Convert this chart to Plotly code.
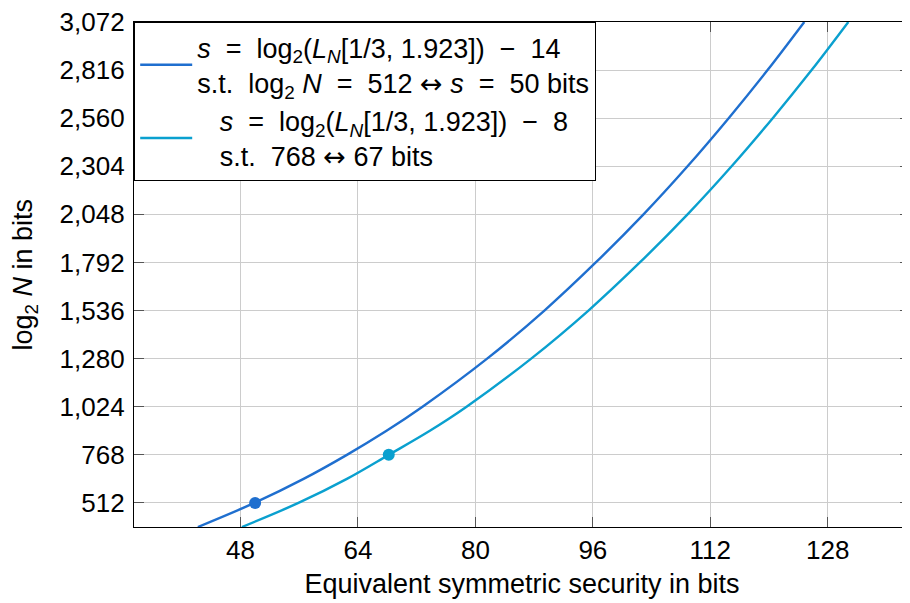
import plotly.graph_objects as go

# ---- data ----
log2N_levels = [384, 512, 640, 768, 896, 1024, 1280, 1536, 1792, 2048, 2304, 2560, 2816, 3072]
sec_minus14 = [42.2, 49.9, 56.6, 62.5, 67.9, 72.8, 81.6, 89.4, 96.4, 102.9, 108.9, 114.5, 119.8, 124.8]
sec_minus8 = [48.2, 55.9, 62.5, 68.2, 73.8, 78.8, 87.6, 95.4, 102.4, 108.9, 114.9, 120.5, 125.8, 130.8]

anchor1_x = [50]
anchor1_y = [512]
anchor2_x = [68.2]
anchor2_y = [768]

x_ticks = [48, 64, 80, 96, 112, 128]
y_ticks = [512, 768, 1024, 1280, 1536, 1792, 2048, 2304, 2560, 2816, 3072]

NB = "\u00a0"
ARROW = "<span style='font-family:DejaVu Sans'>↔</span>"
EQ = NB + "=" + NB
name1 = (f"<i>s</i> {EQ} log<sub>2</sub>(<i>L</i><sub><i>N</i></sub>[1/3, 1.923]) {NB}−{NB} 14"
         f"<br>s.t.{NB} log<sub>2</sub> <i>N</i> {EQ} 512 {ARROW} <i>s</i> {EQ} 50 bits")
name2 = (f"{NB*3}<i>s</i> {EQ} log<sub>2</sub>(<i>L</i><sub><i>N</i></sub>[1/3, 1.923]) {NB}−{NB} 8"
         f"<br>{NB*3}s.t.{NB} 768 {ARROW} 67 bits")

c1 = "#1f6fcf"
c2 = "#0aa0cf"
FONT = "Liberation Sans"

fig = go.Figure()
fig.add_trace(go.Scatter(x=sec_minus14, y=log2N_levels, mode="lines", name=name1,
                         line=dict(color=c1, width=2.4, shape="spline")))
fig.add_trace(go.Scatter(x=sec_minus8, y=log2N_levels, mode="lines", name=name2,
                         line=dict(color=c2, width=2.4, shape="spline")))
fig.add_trace(go.Scatter(x=anchor1_x, y=anchor1_y, mode="markers", showlegend=False,
                         marker=dict(color=c1, size=12)))
fig.add_trace(go.Scatter(x=anchor2_x, y=anchor2_y, mode="markers", showlegend=False,
                         marker=dict(color=c2, size=12)))
# helper (invisible) trace for the right-hand mirrored ticks
fig.add_trace(go.Scatter(x=[None], y=[None], yaxis="y2", showlegend=False, hoverinfo="skip"))

axis_common = dict(
    ticks="inside", ticklen=10, tickwidth=1, tickcolor="#555555",
    showline=True, linecolor="black", linewidth=1.2,
    showgrid=True, gridcolor="#cccccc", gridwidth=1,
    zeroline=False, ticklabeloverflow="allow",
    tickfont=dict(family=FONT, size=26, color="black"),
)

# the page body adds an 8px offset, so the figure is 8px smaller with 8px less margin
fig.update_layout(
    width=902, height=595,
    margin=dict(l=126, r=0, t=14, b=76),
    paper_bgcolor="white", plot_bgcolor="white",
    font=dict(family=FONT, color="black"),
    xaxis=dict(range=[33.5, 139.2], tickvals=x_ticks, mirror="ticks",
               ticklabelstandoff=0,
               title=dict(text="Equivalent symmetric security in bits",
                          font=dict(family=FONT, size=27), standoff=9),
               **axis_common),
    yaxis=dict(range=[384, 3072], tickvals=y_ticks, tickformat=",d",
               ticklabelstandoff=3,
               **axis_common),
    yaxis2=dict(range=[384, 3072], overlaying="y", side="right", tickvals=y_ticks,
                ticks="inside", ticklen=10, tickcolor="#555555", showticklabels=False,
                showgrid=False, showline=False, zeroline=False),
    legend=dict(x=0, y=1, xanchor="left", yanchor="top",
                bgcolor="white", bordercolor="black", borderwidth=1.2,
                font=dict(family=FONT, size=27, color="black"),
                itemwidth=52, tracegroupgap=0),
    showlegend=True,
    annotations=[dict(text="log<sub>2</sub> <i>N</i> in bits", xref="paper", yref="paper",
                      x=-0.1405, y=0.5, xanchor="center", yanchor="middle",
                      textangle=-90, showarrow=False, borderpad=0,
                      font=dict(family=FONT, size=27, color="black"))],
)

fig.write_html("out.html")
